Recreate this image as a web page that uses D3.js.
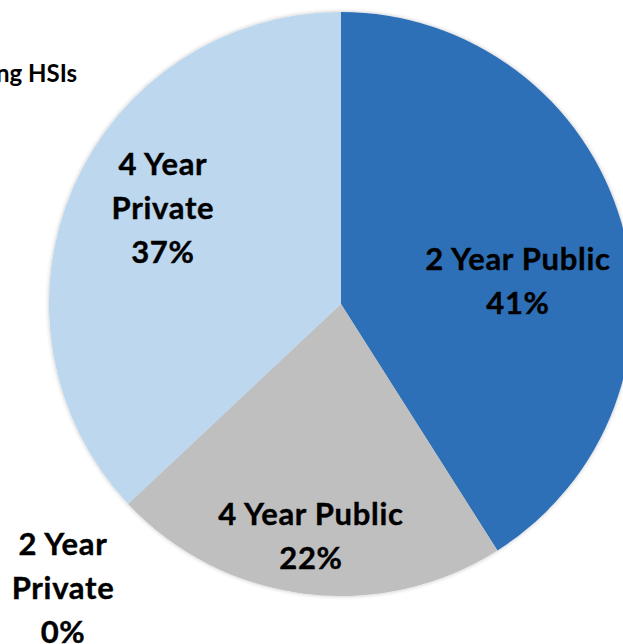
<!DOCTYPE html>
<html>
<head>
<meta charset="utf-8">
<script src="https://cdn.jsdelivr.net/npm/d3@7"></script>
<style>
  html, body { margin: 0; padding: 0; background: #fff; overflow: hidden; }
  text { font-family: Lato, "Open Sans", "DejaVu Sans", sans-serif; font-weight: 700; fill: #000; }
</style>
</head>
<body>
<svg id="chart" width="623" height="644"></svg>
<script>
// Institution types and their share of enrollment (percent)
const categories = ["2 Year Public", "4 Year Public", "2 Year Private", "4 Year Private"];
const shares = [41, 22, 0, 37];
const sliceColors = ["#2E70B8", "#BFBFBF", "#A5A5A5", "#BDD7EE"];
const titleText = "Emerging HSIs";

const width = 623, height = 644;
const cx = 341, cy = 304, radius = 292;
const lineHeight = 44;

// Label anchor (first baseline) as offset from the pie centre, in units of radius,
// plus where each category name wraps.
const labelLayout = {
  "2 Year Public":  { dx: 0.606,  dy: -0.116, lines: ["2 Year Public"] },
  "4 Year Public":  { dx: -0.103, dy: 0.757,  lines: ["4 Year Public"] },
  "2 Year Private": { dx: -0.952, dy: 0.860,  lines: ["2 Year", "Private"] },
  "4 Year Private": { dx: -0.610, dy: -0.442, lines: ["4 Year", "Private"] }
};

const data = categories.map((c, i) => ({ category: c, value: shares[i], color: sliceColors[i] }));

const svg = d3.select("#chart");

const defs = svg.append("defs");
const shadow = defs.append("filter").attr("id", "soft").attr("x", "-10%").attr("y", "-10%")
  .attr("width", "120%").attr("height", "120%");
shadow.append("feGaussianBlur").attr("in", "SourceAlpha").attr("stdDeviation", 2).attr("result", "b");
shadow.append("feComponentTransfer").attr("in", "b").attr("result", "s")
  .append("feFuncA").attr("type", "linear").attr("slope", 0.25);
const merge = shadow.append("feMerge");
merge.append("feMergeNode").attr("in", "s");
merge.append("feMergeNode").attr("in", "SourceGraphic");

const pie = d3.pie().sort(null).value(d => d.value);
const arc = d3.arc().innerRadius(0).outerRadius(radius);

const g = svg.append("g").attr("transform", `translate(${cx},${cy})`);

g.append("g").attr("filter", "url(#soft)")
  .selectAll("path")
  .data(pie(data))
  .join("path")
  .attr("d", arc)
  .attr("fill", d => d.data.color);

const fmt = v => d3.format(".0f")(v) + "%";

const labels = g.selectAll("text.label")
  .data(pie(data))
  .join("text")
  .attr("class", "label")
  .attr("text-anchor", "middle")
  .attr("font-size", 31)
  .attr("letter-spacing", 0.7)
  .attr("stroke", "#000")
  .attr("stroke-width", 0.4)
  .attr("x", d => labelLayout[d.data.category].dx * radius)
  .attr("y", d => labelLayout[d.data.category].dy * radius);

labels.each(function(d) {
  const lay = labelLayout[d.data.category];
  const t = d3.select(this);
  const x = lay.dx * radius;
  lay.lines.concat([fmt(d.data.value)]).forEach((line, i) => {
    t.append("tspan").attr("x", x).attr("dy", i === 0 ? 0 : lineHeight).text(line);
  });
});

// Chart title (runs past the left edge of the page)
svg.append("text")
  .attr("x", 77)
  .attr("y", 82)
  .attr("text-anchor", "end")
  .attr("font-size", 24)
  .text(titleText);
</script>
</body>
</html>
